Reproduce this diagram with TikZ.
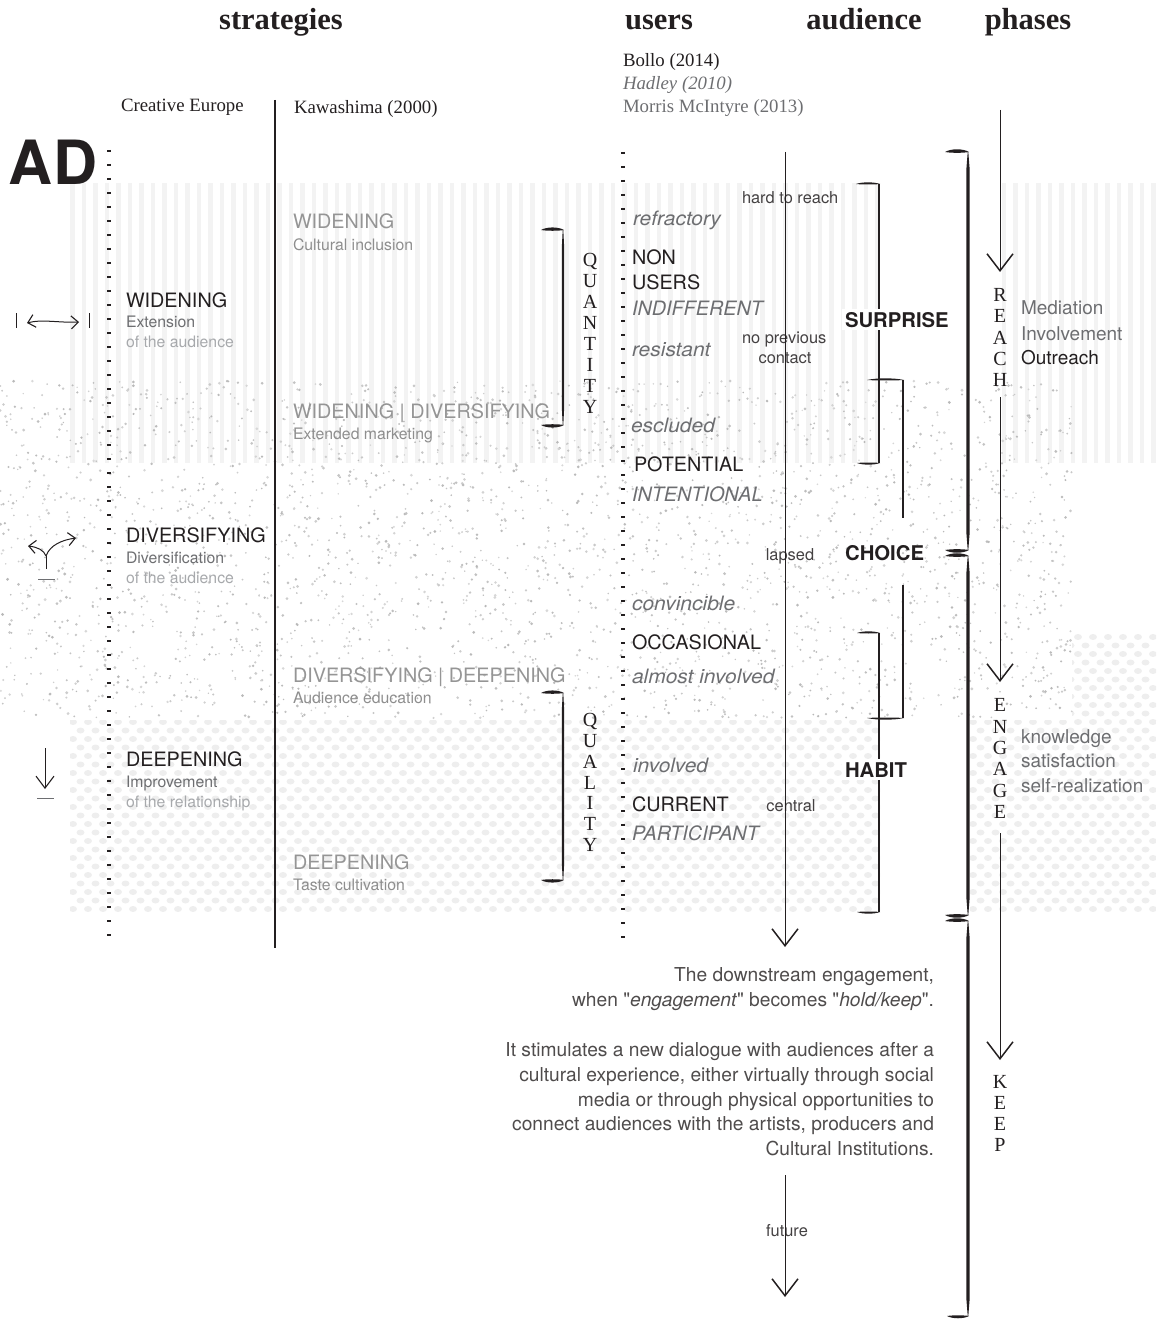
\documentclass[tikz,border=0pt]{standalone}
\usepackage{fontspec}
\setmainfont{Liberation Serif}
\newfontfamily\hv{TeX Gyre Heros}
\newfontfamily\hvwide{TeX Gyre Heros}[FakeStretch=1.06]
\usetikzlibrary{arrows.meta}

\definecolor{ink}{HTML}{231F20}
\definecolor{softink}{HTML}{6D6E71}
\definecolor{paleink}{HTML}{A7A9AC}
\definecolor{kawa}{HTML}{959595}
\definecolor{stripe}{HTML}{F3F3F3}
\definecolor{bubble}{HTML}{EEEEEE}

% lens-shaped bracket ends: x1, x2, y, bulge
\newcommand\capup[4]{\fill[ink] (#1,#3) .. controls ({#1+0.25*(#2-#1)},{#3-#4}) and ({#2-0.25*(#2-#1)},{#3-#4}) .. (#2,#3) .. controls ({#2-0.25*(#2-#1)},{#3+0.3*#4}) and ({#1+0.25*(#2-#1)},{#3+0.3*#4}) .. (#1,#3) -- cycle;}
\newcommand\capdown[4]{\fill[ink] (#1,#3) .. controls ({#1+0.25*(#2-#1)},{#3+#4}) and ({#2-0.25*(#2-#1)},{#3+#4}) .. (#2,#3) .. controls ({#2-0.25*(#2-#1)},{#3-0.3*#4}) and ({#1+0.25*(#2-#1)},{#3-0.3*#4}) .. (#1,#3) -- cycle;}
% tapered vertical stroke: x, y1, y2, half width
\newcommand\vtaper[4]{\fill[ink] ({#1-0.3},#2) -- ({#1-#4},{#2+18}) -- ({#1-#4},{#3-18}) -- ({#1-0.3},#3) -- ({#1+0.3},#3) -- ({#1+#4},{#3-18}) -- ({#1+#4},{#2+18}) -- ({#1+0.3},#2) -- cycle;}

\tikzset{
  head/.style={font=\bfseries\fontsize{30.5}{36}\selectfont, text=ink, anchor=base},
  source/.style={font=\fontsize{18.8}{22}\selectfont, text=ink, anchor=base west},
  big/.style={font=\hv\fontsize{19.8}{24}\selectfont, text=ink, anchor=base west},
  small/.style={font=\hv\fontsize{15.8}{19}\selectfont, text=softink, anchor=base west},
  faint/.style={font=\hv\fontsize{15.8}{19}\selectfont, text=paleink, anchor=base west},
  kbig/.style={big, text=kawa},
  ksmall/.style={small, text=kawa!95!black},
  user/.style={font=\hv\fontsize{19.8}{24}\selectfont, text=ink, anchor=base west},
  useri/.style={user, font=\hv\itshape\fontsize{19.8}{24}\selectfont, text=softink},
  userl/.style={user, font=\hvwide\itshape\fontsize{19.8}{24}\selectfont, text=softink},
  note/.style={font=\hv\fontsize{16.4}{19}\selectfont, text=ink!85, anchor=base west},
  stage/.style={font=\hv\bfseries\fontsize{20.3}{24}\selectfont, text=ink, anchor=base west},
  stagebox/.style={stage, fill=white, inner sep=3pt},
  phasetxt/.style={font=\hv\fontsize{19}{23}\selectfont, text=softink, anchor=base west},
  para/.style={font=\hv\fontsize{19.2}{23}\selectfont, text=ink!80, anchor=base east},
  stack/.style={font=\fontsize{20}{20}\selectfont, text=ink, anchor=base},
  ticks/.style={draw=ink, line width=3.3pt, dash pattern=on 1.8pt off 12.2pt},
  rule/.style={draw=ink, line width=1.2pt},
  flow/.style={draw=ink, line width=1pt, -{Straight Barb[length=17pt,width=26pt,line width=1.5pt]}},
  thin/.style={draw=ink, line width=1.1pt},
  icon/.style={draw=ink, line width=1pt},
  iconhead/.style={-{Straight Barb[length=7pt,width=13pt,line width=1.1pt]}},
}

\begin{document}
\begin{tikzpicture}[x=1pt,y=-1pt, every node/.style={inner sep=0pt, outer sep=0pt}]
\useasboundingbox (0,0) rectangle (1156,1321);
\begin{scope}
\clip (0,0) rectangle (1156,1321);

% ---- background textures ----
% vertical stripes (reach band), open behind the audience column
\begin{scope}
  \clip (70,183) rectangle (883,463) (1002,183) rectangle (1156,463);
  \foreach \i in {0,...,94} \fill[stripe] ({70+\i*11.5},183) rectangle +(4.5,280);
\end{scope}

% bubbles (engage band)
\begin{scope}
  \clip (70,720) rectangle (880,912) (970,720) rectangle (1156,912);
  \foreach \r in {0,...,23} {
    \pgfmathsetmacro\cy{722+\r*8.5}
    \pgfmathsetmacro\off{mod(\r,2)*7.5}
    \foreach \c in {0,...,72}
      \fill[bubble] ({73+\off+\c*15},\cy) ellipse[x radius=4pt, y radius=3pt];
  }
\end{scope}
\begin{scope}
  \clip (1072,633) rectangle (1156,720);
  \foreach \r in {-11,...,0} {
    \pgfmathsetmacro\cy{722+\r*8.5}
    \pgfmathsetmacro\off{mod(abs(\r),2)*7.5}
    \foreach \c in {65,...,72}
      \fill[bubble] ({73+\off+\c*15},\cy) ellipse[x radius=4pt, y radius=3pt];
  }
\end{scope}

% speckles (choice band)
\pgfmathsetseed{4217}
\foreach \k in {1,...,3000} {
  \pgfmathsetmacro\sx{rnd*1072}
  \pgfmathsetmacro\sy{381+rnd*337}
  \pgfmathsetmacro\sr{0.75+0.8*rnd}
  \pgfmathsetmacro\sg{15+13*rnd}
  \fill[black!\sg] (\sx,\sy) circle[radius=\sr pt];
}
\end{scope}

% ---- headings ----
\node[head] (hStrat) at (281,30) {strategies};
\node[head] (hUsers) at (659,30) {users};
\node[head] (hAud) at (864,30) {audience};
\node[head] (hPhase) at (1028,30) {phases};

\node[source] (bollo) at (623,67) {Bollo (2014)};
\node[source, font=\itshape\fontsize{18.8}{22}\selectfont, text=softink] (hadley) at (623,90) {Hadley (2010)};
\node[source, text=softink] (morris) at (623,113) {Morris McIntyre (2013)};
\node[source] (ce) at (121,112) {Creative Europe};
\node[source] (kawa) at (294,114) {Kawashima (2000)};

\node[font=\hv\bfseries\fontsize{61}{62}\selectfont, text=ink, anchor=base west] (AD) at (9,185) {AD};

% ---- column rules ----
\draw[ticks] (109,150) -- (109,947);
\draw[ticks] (623,152) -- (623,947);
\draw[rule] (275,100) -- (275,948);

% ---- Creative Europe column ----
\node[big] (ceW) at (126,307) {WIDENING};
\node[small] (ceW1) at (126,327) {Extension};
\node[faint] (ceW2) at (126,347) {of the audience};
\node[big] (ceD) at (126,542) {DIVERSIFYING};
\node[small] (ceD1) at (126,563) {Diversification};
\node[faint] (ceD2) at (126,583) {of the audience};
\node[big] (ceP) at (126,766) {DEEPENING};
\node[small] (ceP1) at (126,787) {Improvement};
\node[faint] (ceP2) at (126,807) {of the relationship};

% icons
\draw[icon] (16,313) -- (16,328);
\draw[icon] (89,313) -- (89,328);
\coordinate (wl) at (27,323);
\coordinate (wr) at (79,322);
\draw[icon, {Straight Barb[length=7pt,width=13pt,line width=1.1pt]}-{Straight Barb[length=7pt,width=13pt,line width=1.1pt]}] (wl) .. controls (42,319) and (60,323) .. (wr);

\coordinate (forkFoot) at (46,569);
\coordinate (forkMid) at (46,556);
\coordinate (forkL) at (28,546);
\coordinate (forkR) at (76,538);
\draw[icon] (forkFoot) -- (forkMid);
\draw[icon, iconhead] (forkMid) .. controls (44,550) and (37,547) .. (forkL);
\draw[icon, iconhead] (forkMid) .. controls (50,545) and (62,540) .. (forkR);
\draw[draw=softink, line width=0.9pt] (38,579) -- (55,579);

\coordinate (deepTop) at (45,748);
\coordinate (deepTip) at (45,789);
\draw[icon, -{Straight Barb[length=12pt,width=18pt,line width=1.1pt]}] (deepTop) -- (deepTip);
\draw[draw=softink, line width=0.9pt] (37,798) -- (54,798);

% ---- Kawashima column ----
\node[kbig] (kW) at (293,229) {WIDENING};
\node[ksmall] (kW1) at (293,251) {Cultural inclusion};
\node[kbig] (kWD) at (293,418) {WIDENING | DIVERSIFYING};
\node[ksmall] (kWD1) at (293,439) {Extended marketing};
\node[kbig] (kDD) at (293,682) {DIVERSIFYING | DEEPENING};
\node[ksmall] (kDD1) at (293,703) {Audience education};
\node[kbig] (kD) at (293,869) {DEEPENING};
\node[ksmall] (kD1) at (293,890) {Taste cultivation};

% quantity / quality brackets
\capup{541}{564}{230}{3.4}
\vtaper{563}{230}{425}{1.2}
\capdown{541}{564}{425}{3.4}
\foreach \l [count=\i] in {Q,U,A,N,T,I,T,Y}
  \node[stack] (qn\i) at (590,{266.6+(\i-1)*21}) {\l};

\capup{541}{564}{693}{3.4}
\vtaper{563}{693}{880}{1.2}
\capdown{541}{564}{880}{3.4}
\foreach \l [count=\i] in {Q,U,A,L,I,T,Y}
  \node[stack] (ql\i) at (590,{726.6+(\i-1)*20.8}) {\l};

% ---- users column ----
\node[userl] (u1) at (633,226) {refractory};
\node[user] (u2) at (632,265) {NON};
\node[user] (u3) at (632,290) {USERS};
\node[useri] (u4) at (632,316) {INDIFFERENT};
\node[userl] (u5) at (632,356) {resistant};
\node[userl] (u6) at (631,432) {escluded};
\node[user] (u7) at (634,471) {POTENTIAL};
\node[useri] (u8) at (632,501) {INTENTIONAL};
\node[userl] (u9) at (632,610) {convincible};
\node[user] (u10) at (632,649) {OCCASIONAL};
\node[userl] (u11) at (632,683) {almost involved};
\node[userl] (u12) at (633,772) {involved};
\node[user] (u13) at (632,811) {CURRENT};
\node[useri] (u14) at (632,840) {PARTICIPANT};

\node[note] (n1) at (742,204) {hard to reach};
\node[note] (n2) at (742,343) {no previous};
\node[note, anchor=base] (n3) at (785,363) {contact};
\node[note, anchor=base] (n4) at (790,560) {lapsed};
\node[note, anchor=base] (n5) at (791,811) {central};
\node[note, anchor=base] (n6) at (787,1236) {future};

\coordinate (flowTop) at (785,152);
\coordinate (flowTip) at (785,947);
\draw[flow] (flowTop) -- (flowTip);
\coordinate (futTop) at (785,1175);
\coordinate (futTip) at (785,1297);
\draw[flow] (futTop) -- (futTip);

% ---- audience column ----
\capup{856}{880}{184}{2.2}
\draw[thin] (879,184) -- (879,463);
\capdown{857}{880}{463}{2.2}

\capup{867}{904}{380}{2.2}
\draw[thin] (903,380) -- (903,518);

\draw[thin] (903,585) -- (903,718);
\capdown{867}{904}{718}{2.2}

\capup{857}{880}{633}{2.2}
\draw[thin] (879,633) -- (879,912);
\capdown{857}{880}{912}{2.2}

\node[stagebox] (sS) at (842,327) {SURPRISE};
\node[stage] (sC) at (845,560) {CHOICE};
\node[stagebox] (sH) at (842,777) {HABIT};

% ---- phases column ----
\capup{945}{969}{152}{3.6}
\vtaper{968}{152}{550}{1.7}
\capdown{945}{969}{550}{3.6}
\capup{945}{969}{556}{3.6}
\vtaper{968}{556}{915}{1.7}
\capdown{945}{969}{915}{3.6}
\capup{945}{969}{921}{3.6}
\vtaper{968}{921}{1316}{1.7}
\capdown{947}{969}{1316}{3.0}

\coordinate (reachIn) at (1000,110);
\coordinate (reachTip) at (1000,272);
\draw[flow] (reachIn) -- (reachTip);
\foreach \l [count=\i] in {R,E,A,C,H}
  \node[stack] (pr\i) at (1000,{301.6+(\i-1)*21.25}) {\l};

\coordinate (engIn) at (1000,397);
\coordinate (engTip) at (1000,682);
\draw[flow] (engIn) -- (engTip);
\foreach \l [count=\i] in {E,N,G,A,G,E}
  \node[stack] (pe\i) at (1000,{711.6+(\i-1)*21.4}) {\l};

\coordinate (keepIn) at (1000,833);
\coordinate (keepTip) at (1000,1060);
\draw[flow] (keepIn) -- (keepTip);
\foreach \l [count=\i] in {K,E,E,P}
  \node[stack] (pk\i) at (1000,{1088.6+(\i-1)*21}) {\l};

\node[phasetxt] (m1) at (1021,315) {Mediation};
\node[phasetxt] (m2) at (1021,340) {Involvement};
\node[phasetxt, text=ink] (m3) at (1021,364) {Outreach};
\node[phasetxt] (k1) at (1021,743) {knowledge};
\node[phasetxt] (k2) at (1021,767) {satisfaction};
\node[phasetxt] (k3) at (1021,792) {self-realization};

% ---- closing paragraph ----
\node[para] (p1) at (934,981) {The downstream engagement,};
\node[para] (p2) at (934,1006) {when "\textit{engagement}" becomes "\textit{hold/keep}".};
\node[para] (p3) at (934,1056) {It stimulates a new dialogue with audiences after a};
\node[para] (p4) at (934,1081) {cultural experience, either virtually through social};
\node[para] (p5) at (934,1106) {media or through physical opportunities to};
\node[para] (p6) at (934,1130) {connect audiences with the artists, producers and};
\node[para] (p7) at (934,1155) {Cultural Institutions.};

\end{tikzpicture}
\end{document}
